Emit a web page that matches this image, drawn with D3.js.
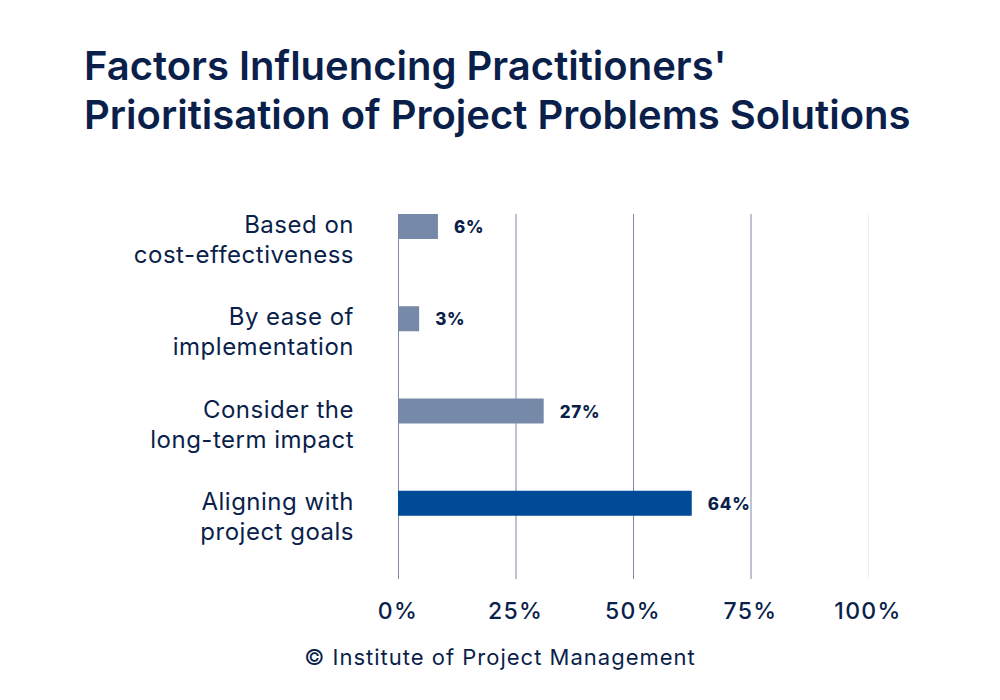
<!DOCTYPE html>
<html>
<head>
<meta charset="utf-8">
<script src="https://cdn.jsdelivr.net/npm/d3@7"></script>
<style>
  body { margin: 0; background: #fff; }
  text { font-family: Inter, "Noto Sans", sans-serif; fill: #0b1f4b; }
</style>
</head>
<body>
<div id="chart"></div>
<script>
// categories, top to bottom
var categories = [
    ["Based on", "cost-effectiveness"],
    ["By ease of", "implementation"],
    ["Consider the", "long-term impact"],
    ["Aligning with", "project goals"]
];
// bar lengths as drawn against the axis
var values = [8.5, 4.5, 31, 62.5];
// printed value labels
var valueLabels = ["6%", "3%", "27%", "64%"];
var ticks = [0, 25, 50, 75, 100];
var highlight = 3;

var width = 1000, height = 700;
var margin = {top: 214, left: 398, right: 132, bottom: 121};

var svg = d3.select("#chart")
  .append("svg")
    .attr("width", width)
    .attr("height", height);

// title
var title = svg.append("text")
    .attr("x", 84)
    .attr("y", 80)
    .style("font-size", "40px")
    .style("font-weight", 600);
title.append("tspan").attr("x", 84).text("Factors Influencing Practitioners'");
title.append("tspan").attr("x", 84).attr("dy", 49).text("Prioritisation of Project Problems Solutions");

// x scale
var x = d3.scaleLinear()
    .domain([0, 100])
    .range([margin.left, width - margin.right]);

// y scale: bar sits at top of each band
var y = d3.scaleBand()
    .domain(d3.range(categories.length))
    .range([margin.top, margin.top + 369]);

var gridBottom = 579;

// gridlines
svg.append("g").selectAll("line")
    .data(ticks)
    .enter().append("line")
    .attr("x1", function(d) { return x(d) + 0.5; })
    .attr("x2", function(d) { return x(d) + 0.5; })
    .attr("y1", margin.top)
    .attr("y2", gridBottom)
    .attr("stroke", function(d) { return d == 100 ? "#e4f2fa" : "#7d8aa3"; })
    .attr("stroke-width", 1);

// tick labels
svg.append("g").selectAll("text")
    .data(ticks)
    .enter().append("text")
    .attr("x", function(d) { return x(d); })
    .attr("y", 619)
    .attr("text-anchor", "middle")
    .style("font-size", "23px")
    .style("font-weight", 500)
    .style("letter-spacing", "1.3px")
    .text(function(d) { return d + "%"; });

// bars
svg.append("g").selectAll("rect")
    .data(values)
    .enter().append("rect")
    .attr("x", x(0))
    .attr("y", function(d, i) { return y(i); })
    .attr("width", function(d) { return x(d) - x(0); })
    .attr("height", 25)
    .attr("fill", function(d, i) { return i == highlight ? "#004b97" : "#7689a8"; });

// value labels
svg.append("g").selectAll("text")
    .data(values)
    .enter().append("text")
    .attr("x", function(d) { return x(d) + 16; })
    .attr("y", function(d, i) { return y(i) + 19; })
    .style("font-size", "17px")
    .style("font-weight", 800)
    .style("letter-spacing", "0.8px")
    .text(function(d, i) { return valueLabels[i]; });

// category labels
var cat = svg.append("g").selectAll("text")
    .data(categories)
    .enter().append("text")
    .attr("text-anchor", "end")
    .attr("y", function(d, i) { return y(i) + 19; })
    .style("font-size", "24px")
    .style("letter-spacing", "0.5px");
cat.append("tspan")
    .attr("x", 354)
    .text(function(d) { return d[0]; });
cat.append("tspan")
    .attr("x", 354)
    .attr("dy", 30)
    .text(function(d) { return d[1]; });

// source
svg.append("text")
    .attr("x", 500)
    .attr("y", 665)
    .attr("text-anchor", "middle")
    .style("font-size", "22px")
    .style("letter-spacing", "1px")
    .text("\u00A9 Institute of Project Management");
</script>
</body>
</html>
